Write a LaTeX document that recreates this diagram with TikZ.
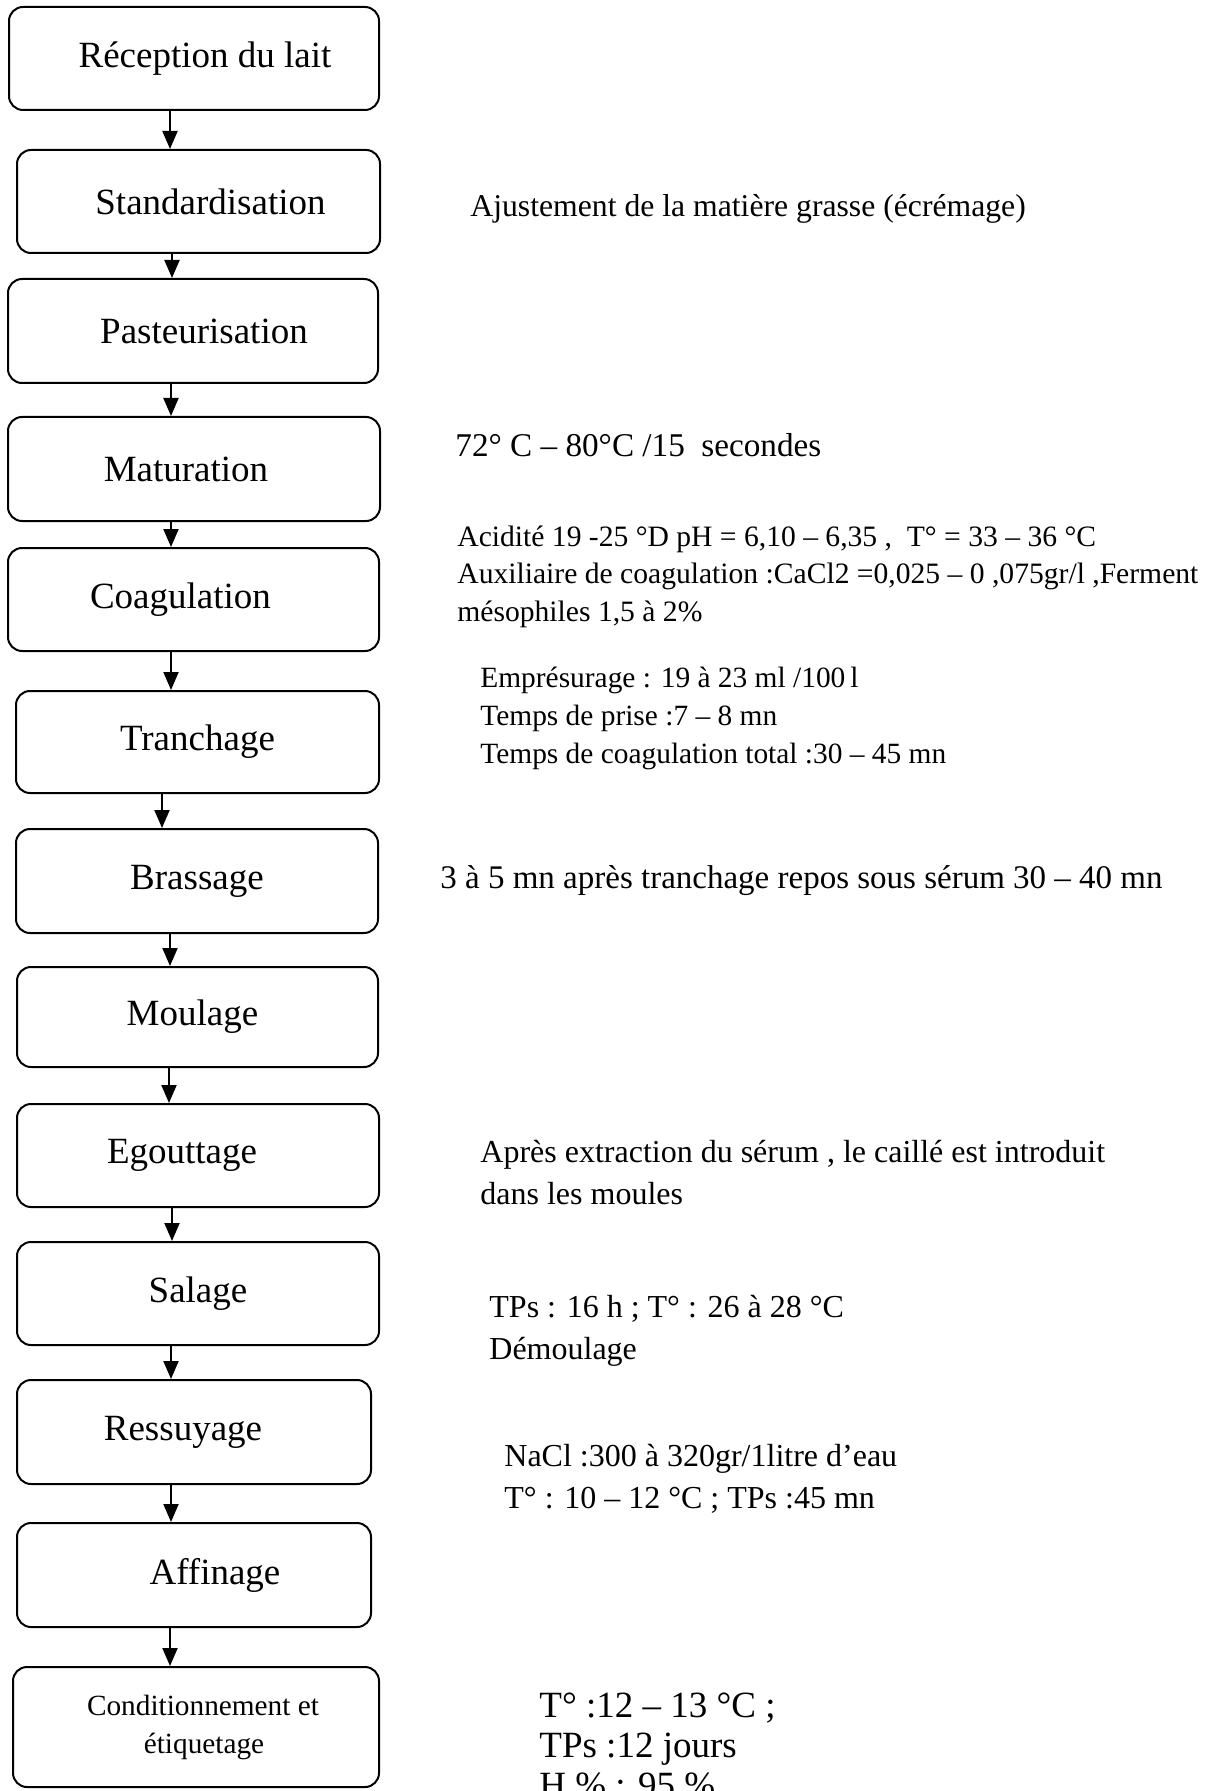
\documentclass[tikz,border=0pt]{standalone}
\usepackage{fontspec}
\setmainfont{Liberation Serif}
\usetikzlibrary{arrows.meta}
\tikzset{>={Triangle[length=9pt,width=7.5pt]}, % filled arrow heads
  stage/.style={draw, line width=1pt, rounded corners=7pt, inner sep=0pt,
    font={\fontsize{18.5}{22}\selectfont}},
  note/.style={anchor=base west, align=left, inner sep=0pt,
    font={\fontsize{16}{21}\selectfont}},
  small note/.style={note, font={\fontsize{14.8}{18.7}\selectfont}},
  flow/.style={->, line width=1pt},
}
\newcommand{\nudge}[2]{\hspace*{#1}#2\hspace*{-#1}}

\begin{document}
\begin{tikzpicture}[x=0.5pt, y=-0.5pt]

    \useasboundingbox (0,0) rectangle (1213,1791);

    \node [stage, minimum width=185pt, minimum height=51.5pt]
    at (194,58.5) (recep) {\nudge{5.5pt}{Réception du lait}};
    \node [stage, minimum width=181.5pt, minimum height=51.5pt]
    at (198.5,201.5) (stand) {\nudge{6pt}{Standardisation}};
    \node [stage, minimum width=185pt, minimum height=52pt]
    at (193,331) (past) {\nudge{5.5pt}{Pasteurisation}};
    \node [stage, minimum width=186pt, minimum height=52pt]
    at (194,469) (mat) {\nudge{-4pt}{Maturation}};
    \node [stage, minimum width=185.5pt, minimum height=51.5pt]
    at (193.5,599.5) (coag) {\nudge{-6.5pt}{Coagulation}};
    \node [stage, minimum width=181.5pt, minimum height=51pt]
    at (197.5,742) (tranch) {Tranchage};
    \node [stage, minimum width=181pt, minimum height=52pt]
    at (197,881) (brass) {Brassage};
    \node [stage, minimum width=180.5pt, minimum height=50pt]
    at (197.5,1017) (moul) {\nudge{-2.5pt}{Moulage}};
    \node [stage, minimum width=181pt, minimum height=51.5pt]
    at (198,1155.5) (egout) {\nudge{-8pt}{Egouttage}};
    \node [stage, minimum width=181pt, minimum height=51.5pt]
    at (198,1293.5) (sal) {Salage};
    \node [stage, minimum width=177pt, minimum height=52pt]
    at (194,1432) (ress) {\nudge{-5.5pt}{Ressuyage}};
    \node [stage, minimum width=177pt, minimum height=52pt]
    at (194,1575) (aff) {\nudge{10.5pt}{Affinage}};
    \node [stage, minimum width=183pt, minimum height=60pt, align=center,
    font={\fontsize{14.65}{19}\selectfont}]
    at (196,1727) (cond) {\nudge{3.5pt}{Conditionnement et}\\\nudge{4pt}{étiquetage}};

    \foreach \a/\b/\x in {recep/stand/170, stand/past/172, past/mat/171,
      mat/coag/171, coag/tranch/171, tranch/brass/162, brass/moul/170,
      moul/egout/169, egout/sal/172, sal/ress/171, ress/aff/171, aff/cond/170}
    \draw [flow] (\a.south -| \x,0) -- (\b.north -| \x,0);

    % notes sit on the baseline of their last line
    \node [note, font={\fontsize{15.85}{21}\selectfont}] at (470,217) (nstand)
    {Ajustement de la matière grasse (écrémage)};
    \node [note, font={\fontsize{16.6}{21}\selectfont}] at (455,457) (nmat)
    {72° C – 80°C /15\ \ secondes};
    \node [small note] at (457,621) (ncoag)
    {Acidité 19 -25 °D pH = 6,10 – 6,35 ,\ \ T° = 33 – 36 °C\\
     Auxiliaire de coagulation :CaCl2 =0,025 – 0 ,075gr/l ,Ferment\\
     mésophiles 1,5 à 2\%};
    \node [small note, font={\fontsize{14.7}{18.8}\selectfont}] at (480,763) (ntranch)
    {Emprésurage : 19 à 23 ml /100\,l\\
     Temps de prise :7 – 8 mn\\
     Temps de coagulation total :30 – 45 mn};
    \node [note, font={\fontsize{16.5}{21}\selectfont}] at (440,888) (nbrass)
    {3 à 5 mn après tranchage repos sous sérum 30 – 40 mn};
    \node [note] at (480,1204) (negout)
    {Après extraction du sérum , le caillé est introduit\\dans les moules};
    \node [note] at (489,1359) (nsal) {TPs : 16 h ; T° : 26 à 28 °C\\Démoulage};
    \node [note] at (504,1508) (nress)
    {NaCl :300 à 320gr/1litre d’eau\\T° : 10 – 12 °C ; TPs :45 mn};
    \node [note, font={\fontsize{18.5}{20}\selectfont}] at (539,1797) (naff)
    {T° :12 – 13 °C ;\\TPs :12 jours\\H \% : 95 \%};

\end{tikzpicture}
\end{document}
